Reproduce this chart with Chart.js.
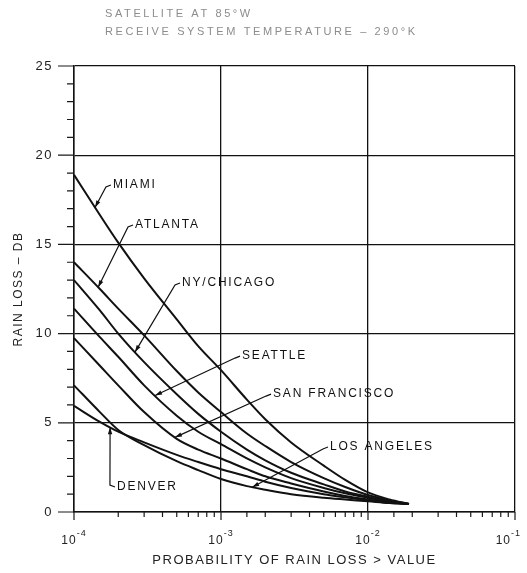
<!DOCTYPE html>
<html>
<head>
<meta charset="utf-8">
<script src="https://cdn.jsdelivr.net/npm/chart.js@4.4.0/dist/chart.umd.min.js"></script>
<style>
  html, body { margin: 0; padding: 0; background: #fff; }
</style>
</head>
<body>
<canvas id="GraficoPerdaChuva" width="527" height="573"></canvas>
<script>
// probability of rain loss > value (x) and rain loss in dB per city
const probabilidade = [1e-4, 1.5e-4, 2e-4, 3e-4, 5e-4, 7e-4, 1e-3, 1.5e-3, 2e-3, 3e-3, 5e-3, 7e-3, 1e-2, 1.4e-2, 1.9e-2];
const miami        = [18.9, 16.65, 15.1, 13.1, 10.8, 9.3, 7.95, 6.3, 5.2, 3.9, 2.6, 1.8, 1.1, 0.7, 0.45];
const atlanta      = [14.0, 12.5, 11.4, 9.9, 7.9, 6.7, 5.6, 4.4, 3.7, 2.8, 1.9, 1.4, 0.95, 0.65, 0.45];
const nyChicago    = [13.0, 11.3, 10.0, 8.4, 6.6, 5.5, 4.5, 3.5, 2.9, 2.2, 1.55, 1.15, 0.85, 0.6, 0.45];
const seattle      = [11.4, 9.8, 8.7, 7.1, 5.4, 4.5, 3.8, 3.0, 2.5, 1.9, 1.35, 1.05, 0.8, 0.58, 0.45];
const sanFrancisco = [9.75, 8.2, 7.1, 5.6, 4.1, 3.5, 3.0, 2.4, 2.0, 1.6, 1.15, 0.9, 0.7, 0.55, 0.45];
const losAngeles   = [7.1, 5.6, 4.6, 3.75, 2.85, 2.35, 1.85, 1.45, 1.25, 1.0, 0.8, 0.7, 0.6, 0.5, 0.45];
const denver       = [5.95, 5.05, 4.5, 3.9, 3.2, 2.8, 2.4, 2.0, 1.7, 1.35, 1.0, 0.82, 0.65, 0.52, 0.45];

const cidades = ['MIAMI', 'ATLANTA', 'NY/CHICAGO', 'SEATTLE', 'SAN FRANCISCO', 'LOS ANGELES', 'DENVER'];
const series = [miami, atlanta, nyChicago, seattle, sanFrancisco, losAngeles, denver];

// where each city name sits (x, dB) and where its leader touches the curve (x)
const posicaoRotulo = [[1.84e-4, 18.33], [2.6e-4, 16.09], [5.43e-4, 12.84], [1.39e-3, 8.74], [2.26e-3, 6.61], [5.51e-3, 3.64], [1.96e-4, 1.40]];
const pontaSeta = [1.39e-4, 1.46e-4, 2.6e-4, 3.56e-4, 4.86e-4, 1.63e-3, 1.76e-4];

const cabecalho = ['SATELLITE AT 85°W', 'RECEIVE SYSTEM TEMPERATURE \u2013 290°K'];

function ehDecada(v) {
    const l = Math.log10(v);
    return Math.abs(l - Math.round(l)) < 1e-6;
}

function valorNaCurva(valores, x) {
    const lx = Math.log10(x);
    for (let i = 0; i < probabilidade.length - 1; i++) {
        const a = Math.log10(probabilidade[i]), b = Math.log10(probabilidade[i + 1]);
        if (lx >= a && lx <= b) {
            return valores[i] + (valores[i + 1] - valores[i]) * (lx - a) / (b - a);
        }
    }
    return valores[valores.length - 1];
}

const anotacoes = {
    id: 'anotacoes',
    beforeDraw(chart) {
        chart.ctx.letterSpacing = '1.5px';
    },
    afterDraw(chart) {
        const { ctx, chartArea, scales } = chart;
        const x = scales.x, y = scales.y;
        ctx.save();

        // tick marks outside the frame
        ctx.strokeStyle = '#1a1a1a';
        ctx.lineWidth = 1.2;
        ctx.beginPath();
        for (let v = y.min; v <= y.max; v++) {
            const py = y.getPixelForValue(v);
            const len = v % 5 === 0 ? 16 : 7;
            ctx.moveTo(chartArea.left - len, py);
            ctx.lineTo(chartArea.left, py);
        }
        x.ticks.forEach(function (t) {
            const px = x.getPixelForValue(t.value);
            const len = ehDecada(t.value) ? 8 : 5;
            ctx.moveTo(px, chartArea.bottom);
            ctx.lineTo(px, chartArea.bottom + len);
        });
        ctx.stroke();

        // decade labels 10^-n
        ctx.fillStyle = '#222';
        ctx.textBaseline = 'middle';
        ctx.textAlign = 'left';
        ctx.letterSpacing = '1px';
        x.ticks.forEach(function (t) {
            if (!ehDecada(t.value)) return;
            const base = '10';
            const expo = '-' + Math.abs(Math.round(Math.log10(t.value)));
            ctx.font = '12px "Liberation Sans", Arial, sans-serif';
            const wb = ctx.measureText(base).width;
            ctx.font = '9px "Liberation Sans", Arial, sans-serif';
            const we = ctx.measureText(expo).width;
            let left = x.getPixelForValue(t.value) - (wb + we) / 2;
            if (left + wb + we > chart.width - 6) left = chart.width - 6 - wb - we;
            ctx.font = '12px "Liberation Sans", Arial, sans-serif';
            ctx.fillText(base, left, chartArea.bottom + 29);
            ctx.font = '9px "Liberation Sans", Arial, sans-serif';
            ctx.fillText(expo, left + wb, chartArea.bottom + 22);
        });

        // header
        ctx.fillStyle = '#8c8c8c';
        ctx.font = '11px "Liberation Sans", Arial, sans-serif';
        ctx.letterSpacing = '2.6px';
        ctx.fillText(cabecalho[0], 105, 14);
        ctx.fillText(cabecalho[1], 105, 32);

        // city names with leaders
        ctx.fillStyle = '#111';
        ctx.strokeStyle = '#111';
        ctx.font = '12px "Liberation Sans", Arial, sans-serif';
        ctx.letterSpacing = '1.8px';
        ctx.lineWidth = 1.2;
        cidades.forEach(function (nome, i) {
            const tx = x.getPixelForValue(posicaoRotulo[i][0]);
            const ty = y.getPixelForValue(posicaoRotulo[i][1]);
            ctx.fillText(nome, tx, ty);

            const px = x.getPixelForValue(pontaSeta[i]);
            const py = y.getPixelForValue(valorNaCurva(series[i], pontaSeta[i]));
            const cx = tx - 7, cy = ty + (py > ty ? 2 : -2);
            ctx.beginPath();
            ctx.moveTo(tx - 2, ty);
            ctx.lineTo(cx, cy);
            ctx.lineTo(px, py);
            ctx.stroke();

            const ang = Math.atan2(py - cy, px - cx);
            ctx.beginPath();
            ctx.moveTo(px, py);
            ctx.lineTo(px - 7 * Math.cos(ang) + 2.2 * Math.sin(ang), py - 7 * Math.sin(ang) - 2.2 * Math.cos(ang));
            ctx.lineTo(px - 7 * Math.cos(ang) - 2.2 * Math.sin(ang), py - 7 * Math.sin(ang) + 2.2 * Math.cos(ang));
            ctx.closePath();
            ctx.fill();
        });
        ctx.restore();
    }
};

new Chart(document.getElementById("GraficoPerdaChuva"), {
    type: 'line',
    data: {
        datasets: series.map(function (valores, i) {
            return {
                label: cidades[i],
                data: probabilidade.map(function (p, k) { return { x: p, y: valores[k] }; }),
                borderColor: "#111",
                borderWidth: 2,
                pointRadius: 0,
                cubicInterpolationMode: 'monotone',
                fill: false
            };
        })
    },
    options: {
        responsive: false,
        animation: false,
        layout: { padding: { top: 66, right: 12, bottom: 0, left: 0 } },
        plugins: {
            legend: { display: false },
            tooltip: { enabled: false },
            title: { display: false }
        },
        scales: {
            x: {
                type: 'logarithmic',
                min: 1e-4,
                max: 1e-1,
                afterFit: function (s) { s.height = 61; s.paddingLeft = 0; s.paddingRight = 0; },
                border: { color: '#111', width: 1.5 },
                grid: {
                    drawTicks: false,
                    lineWidth: 1.3,
                    color: function (c) { return c.tick && ehDecada(c.tick.value) ? '#111' : 'rgba(0,0,0,0)'; }
                },
                ticks: {
                    autoSkip: false,
                    maxRotation: 0,
                    callback: function () { return ''; }
                },
                title: {
                    display: true,
                    text: 'PROBABILITY OF RAIN LOSS > VALUE',
                    color: '#222',
                    font: { family: '"Liberation Sans", Arial, sans-serif', size: 13 },
                    padding: { top: 0, bottom: 5 }
                }
            },
            y: {
                min: 0,
                max: 25,
                afterFit: function (s) { s.width = 74; },
                border: { color: '#111', width: 1.5 },
                grid: {
                    drawTicks: false,
                    lineWidth: 1.3,
                    color: function (c) { return c.tick && c.tick.value % 5 === 0 ? '#111' : 'rgba(0,0,0,0)'; }
                },
                ticks: {
                    stepSize: 1,
                    autoSkip: false,
                    padding: 21,
                    color: '#222',
                    font: { family: '"Liberation Sans", Arial, sans-serif', size: 13 },
                    callback: function (v) { return v % 5 === 0 ? String(v) : ''; }
                },
                title: {
                    display: true,
                    text: 'RAIN LOSS \u2013 DB',
                    color: '#222',
                    font: { family: '"Liberation Sans", Arial, sans-serif', size: 12 },
                    padding: { top: 11, bottom: 0 }
                }
            }
        }
    },
    plugins: [anotacoes]
});
</script>
</body>
</html>
